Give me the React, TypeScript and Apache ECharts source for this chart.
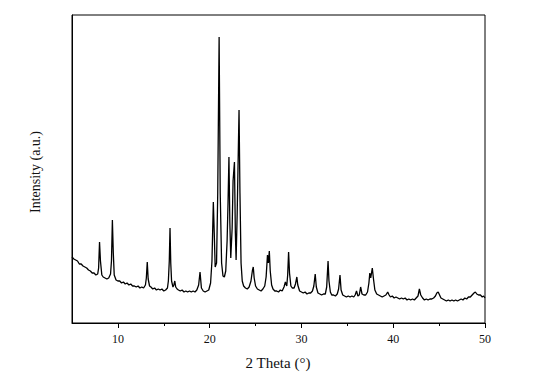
import React, { useEffect, useRef } from "react";
import * as echarts from "echarts";

const twoTheta = [
  5.0, 5.2, 5.4, 5.6, 5.8, 6.0, 6.2, 6.4, 6.6, 6.8,
  7.0, 7.2, 7.4, 7.6, 7.8, 7.9, 8.0, 8.1, 8.25, 8.4,
  8.6, 8.8, 9.0, 9.2, 9.3, 9.4, 9.5, 9.6, 9.8, 10.0,
  10.2, 10.4, 10.6, 10.8, 11.0, 11.2, 11.4, 11.6, 11.8, 12.0,
  12.2, 12.4, 12.6, 12.8, 13.0, 13.1, 13.2, 13.3, 13.45, 13.6,
  13.8, 14.0, 14.2, 14.4, 14.6, 14.8, 15.0, 15.2, 15.4, 15.5,
  15.6, 15.68, 15.76, 15.85, 16.0, 16.1, 16.2, 16.3, 16.45, 16.6,
  16.8, 17.0, 17.2, 17.4, 17.6, 17.8, 18.0, 18.2, 18.4, 18.6,
  18.8, 18.95, 19.1, 19.3, 19.5, 19.7, 19.9, 20.1, 20.25, 20.4,
  20.5, 20.6, 20.75, 20.88, 21.03, 21.15, 21.3, 21.45, 21.6, 21.75,
  21.9, 22.0, 22.1, 22.2, 22.3, 22.45, 22.55, 22.7, 22.8, 22.88,
  23.0, 23.2, 23.3, 23.42, 23.55, 23.7, 23.9, 24.1, 24.3, 24.5,
  24.65, 24.75, 24.85, 25.0, 25.2, 25.4, 25.6, 25.8, 26.0, 26.15,
  26.3, 26.4, 26.5, 26.6, 26.75, 26.9, 27.1, 27.3, 27.5, 27.7,
  27.9, 28.1, 28.25, 28.4, 28.5, 28.6, 28.7, 28.85, 29.0, 29.2,
  29.35, 29.5, 29.6, 29.8, 30.0, 30.2, 30.4, 30.6, 30.8, 31.0,
  31.2, 31.35, 31.5, 31.62, 31.8, 32.0, 32.2, 32.4, 32.6, 32.75,
  32.9, 33.0, 33.15, 33.3, 33.5, 33.7, 33.9, 34.05, 34.2, 34.32,
  34.5, 34.7, 34.9, 35.1, 35.3, 35.5, 35.7, 35.85, 36.0, 36.15,
  36.3, 36.45, 36.6, 36.8, 37.0, 37.2, 37.35, 37.45, 37.55, 37.72,
  37.85, 38.0, 38.2, 38.4, 38.6, 38.8, 39.0, 39.2, 39.4, 39.55,
  39.7, 39.9, 40.1, 40.3, 40.5, 40.7, 40.9, 41.1, 41.3, 41.5,
  41.7, 41.9, 42.1, 42.3, 42.5, 42.7, 42.85, 43.0, 43.2, 43.4,
  43.6, 43.8, 44.0, 44.2, 44.4, 44.6, 44.75, 44.9, 45.05, 45.2,
  45.4, 45.6, 45.8, 46.0, 46.2, 46.4, 46.6, 46.8, 47.0, 47.2,
  47.4, 47.6, 47.8, 48.0, 48.2, 48.4, 48.6, 48.8, 48.95, 49.1,
  49.3, 49.5, 49.7, 49.85, 50.0,
];

const intensity = [
  66, 64, 63, 62, 59, 59, 57, 56, 55, 53,
  52, 50, 50, 48, 49, 55, 81, 62, 48, 46,
  45, 44, 45, 49, 62, 103, 70, 48, 43, 42,
  42, 40, 41, 39, 40, 38, 39, 37, 37, 36,
  37, 35, 36, 35, 38, 45, 61, 44, 37, 36,
  34, 35, 33, 34, 33, 34, 32, 33, 35, 42,
  62, 95, 60, 42, 36, 38, 42, 36, 34, 33,
  32, 33, 31, 32, 31, 32, 31, 32, 31, 33,
  38, 51, 35, 32, 31, 32, 33, 40, 62, 121,
  90, 56, 60, 130, 286, 130, 60, 47, 46, 52,
  82, 120, 166, 100, 65, 95, 142, 161, 90, 63,
  110, 213, 130, 60, 42, 37, 35, 34, 36, 42,
  52, 56, 45, 37, 34, 33, 32, 34, 37, 46,
  68, 60, 72, 52, 38, 34, 32, 32, 31, 33,
  32, 36, 41, 37, 48, 71, 50, 37, 35, 35,
  39, 46, 38, 32, 31, 30, 31, 29, 30, 30,
  32, 37, 49, 36, 30, 29, 28, 29, 29, 36,
  62, 42, 31, 28, 28, 27, 29, 34, 48, 33,
  28, 27, 26, 27, 26, 27, 26, 28, 32, 27,
  28, 36, 29, 28, 28, 31, 40, 50, 45, 55,
  44, 33, 29, 28, 27, 26, 27, 28, 31, 28,
  26, 27, 25, 26, 25, 24, 25, 24, 25, 23,
  24, 23, 24, 23, 25, 27, 34, 28, 25, 23,
  24, 23, 24, 24, 25, 27, 30, 31, 28, 25,
  24, 23, 22, 23, 22, 23, 22, 23, 22, 23,
  24, 23, 25, 24, 26, 26, 28, 30, 31, 29,
  28, 28, 26, 27, 25,
];

const majorTicks = [10, 20, 30, 40, 50];
const minorTicks = [15, 25, 35, 45];

export default function App() {
  const ref = useRef<HTMLDivElement>(null);
  useEffect(() => {
    if (!ref.current) return;
    const chart = echarts.init(ref.current, null, { renderer: "svg" });
    const data = twoTheta.map((x, i) => [x, intensity[i]]);
    const font = "'Liberation Serif', 'Times New Roman', serif";
    const gridRect = { left: 72, right: 56, top: 15, bottom: 59 };
    chart.setOption({
      animation: false,
      backgroundColor: "#ffffff",
      grid: [
        {
          ...gridRect,
          show: true,
          borderColor: "#000",
          borderWidth: 1,
          backgroundColor: "transparent",
        },
        { ...gridRect, show: false },
      ],
      xAxis: [
        {
          type: "value",
          gridIndex: 0,
          min: 5,
          max: 50,
          position: "bottom",
          axisLine: { show: true, onZero: false, lineStyle: { color: "#000", width: 1 } },
          axisTick: {
            show: true,
            customValues: majorTicks,
            length: 5,
            inside: false,
            lineStyle: { color: "#000", width: 1 },
          },
          axisLabel: {
            show: true,
            customValues: majorTicks,
            margin: 10,
            color: "#111",
            fontFamily: font,
            fontSize: 12,
          },
          splitLine: { show: false },
        },
        {
          type: "value",
          gridIndex: 1,
          min: 5,
          max: 50,
          position: "bottom",
          axisLine: { show: true, onZero: false, lineStyle: { color: "#000", width: 1, opacity: 0 } },
          axisTick: {
            show: true,
            customValues: minorTicks,
            length: 3,
            inside: false,
            lineStyle: { color: "#000", width: 1 },
          },
          axisLabel: { show: false },
          splitLine: { show: false },
        },
      ],
      yAxis: [
        {
          type: "value",
          gridIndex: 0,
          min: 0,
          max: 308,
          axisLine: { show: true, onZero: false, lineStyle: { color: "#000", width: 1 } },
          axisTick: { show: false },
          axisLabel: { show: false },
          splitLine: { show: false },
        },
        {
          type: "value",
          gridIndex: 1,
          min: 0,
          max: 308,
          axisLine: { show: false },
          axisTick: { show: false },
          axisLabel: { show: false },
          splitLine: { show: false },
        },
      ],
      graphic: [
        {
          type: "text",
          x: 278,
          y: 363,
          style: {
            text: "2 Theta (°)",
            font: `15px ${font}`,
            fill: "#111",
            textAlign: "center",
            textVerticalAlign: "middle",
          },
        },
        {
          type: "text",
          x: 35,
          y: 172,
          rotation: Math.PI / 2,
          style: {
            text: "Intensity (a.u.)",
            font: `14px ${font}`,
            fill: "#111",
            textAlign: "center",
            textVerticalAlign: "middle",
          },
        },
      ],
      series: [
        {
          type: "line",
          xAxisIndex: 0,
          yAxisIndex: 0,
          data,
          showSymbol: false,
          symbol: "none",
          lineStyle: { color: "#000", width: 1.3 },
        },
      ],
    });
    return () => chart.dispose();
  }, []);
  return (
    <div
      ref={ref}
      style={{ position: "fixed", left: 0, top: 0, width: 541, height: 382, background: "#fff" }}
    />
  );
}
